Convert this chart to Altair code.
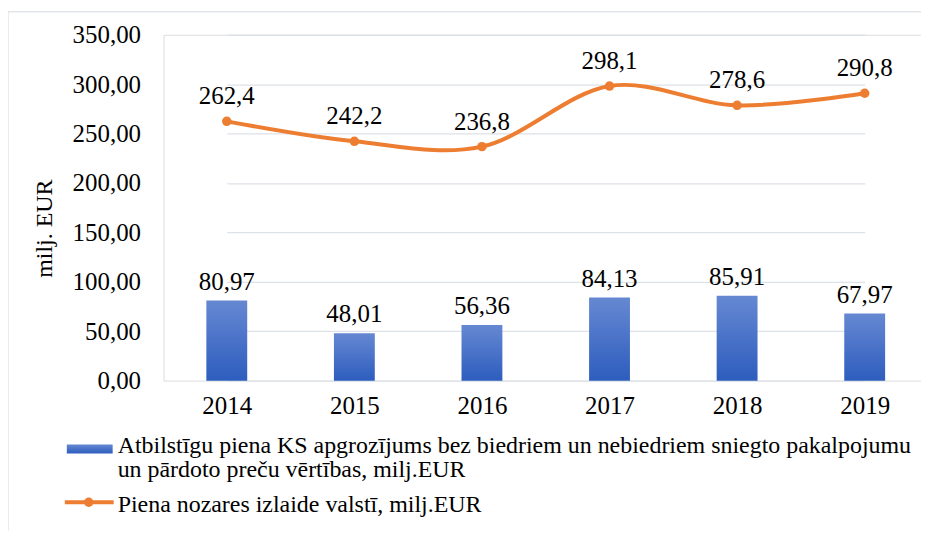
import altair as alt
import pandas as pd

years = ["2014", "2015", "2016", "2017", "2018", "2019"]
bar_values = [80.97, 48.01, 56.36, 84.13, 85.91, 67.97]
line_values = [262.4, 242.2, 236.8, 298.1, 278.6, 290.8]
y_ticks = [0, 50, 100, 150, 200, 250, 300, 350]
bar_name_1 = "Atbilstīgu piena KS apgrozījums bez biedriem un nebiedriem sniegto pakalpojumu"
bar_name_2 = "un pārdoto preču vērtības, milj.EUR"
line_name = "Piena nozares izlaide valstī, milj.EUR"
y_title = "milj. EUR"

FONT = "Liberation Serif"
ORANGE = "#ED7D31"

df = pd.DataFrame({"year": years, "bar": bar_values, "line": line_values})
df["bar_lbl"] = [f"{v:.2f}".replace(".", ",") for v in bar_values]
df["line_lbl"] = [f"{v:.1f}".replace(".", ",") for v in line_values]

W, H = 760, 347

def xs():
    return alt.Scale(type="point", range=[63.5, 703.5], padding=0)

x_enc = alt.X("year:O", scale=xs(),
              axis=alt.Axis(title=None, domain=False, ticks=False, labelAngle=0,
                            labelFont=FONT, labelFontSize=25, labelColor="#000000",
                            labelPadding=13))
y_scale = alt.Scale(domain=[0, 350], nice=False)

grad = alt.LinearGradient(
    gradient="linear",
    stops=[alt.GradientStop(color="#6688d2", offset=0),
           alt.GradientStop(color="#2d5dbe", offset=1)],
    x1=1, x2=1, y1=0, y2=1)

one = alt.Data(values=[{"k": 1}])
frame_left = alt.Chart(one).mark_rule(color="#e1e5ea", strokeWidth=1.5).encode(
    x=alt.value(-156), y=alt.value(-23), y2=alt.value(700))
frame_top = alt.Chart(one).mark_rule(color="#e1e5ea", strokeWidth=1.5).encode(
    x=alt.value(-156), x2=alt.value(900), y=alt.value(-23))

base = alt.Chart(df)

bars = base.mark_bar(size=41, color=grad).encode(
    x=x_enc,
    y=alt.Y("bar:Q", scale=y_scale,
            axis=alt.Axis(title=y_title, values=y_ticks, domain=False, ticks=False,
                          grid=True, gridColor="#dde2e9", gridWidth=1.3,
                          labelExpr="replace(format(datum.value, '.2f'), '.', ',')",
                          labelFont=FONT, labelFontSize=25, labelColor="#000000",
                          labelPadding=23,
                          titleFont=FONT, titleFontSize=24, titleFontWeight="normal",
                          titleColor="#000000", titleAngle=270, titleX=-119, titleY=194,
                          titleAlign="center", titleBaseline="middle")),
)

bar_text = base.mark_text(font=FONT, fontSize=25, color="#000000", dy=-6,
                          baseline="bottom").encode(
    x=alt.X("year:O", scale=xs()),
    y=alt.Y("bar:Q", scale=y_scale),
    text="bar_lbl:N",
)

line = base.mark_line(color=ORANGE, strokeWidth=4, interpolate="cardinal").encode(
    x=alt.X("year:O", scale=xs()),
    y=alt.Y("line:Q", scale=y_scale),
)
pts = base.mark_point(filled=True, color=ORANGE, size=90, opacity=1).encode(
    x=alt.X("year:O", scale=xs()),
    y=alt.Y("line:Q", scale=y_scale),
)
line_text = base.mark_text(font=FONT, fontSize=25, color="#000000", dy=-25,
                           baseline="middle").encode(
    x=alt.X("year:O", scale=xs()),
    y=alt.Y("line:Q", scale=y_scale),
    text="line_lbl:N",
)

leg_rect = alt.Chart(one).mark_rect(color=grad).encode(
    x=alt.value(-97), x2=alt.value(-51), y=alt.value(411), y2=alt.value(420))
leg_t1 = alt.Chart(one).mark_text(font=FONT, fontSize=24, align="left", baseline="middle",
                                  color="#000000").encode(
    x=alt.value(-46), y=alt.value(413), text=alt.value(bar_name_1))
leg_t2 = alt.Chart(one).mark_text(font=FONT, fontSize=24, align="left", baseline="middle",
                                  color="#000000").encode(
    x=alt.value(-46), y=alt.value(437), text=alt.value(bar_name_2))
leg_line = alt.Chart(one).mark_rule(color=ORANGE, strokeWidth=4).encode(
    x=alt.value(-99), x2=alt.value(-50), y=alt.value(469))
leg_pt = alt.Chart(one).mark_point(filled=True, color=ORANGE, size=90, opacity=1).encode(
    x=alt.value(-75), y=alt.value(469))
leg_t3 = alt.Chart(one).mark_text(font=FONT, fontSize=24, align="left", baseline="middle",
                                  color="#000000").encode(
    x=alt.value(-46), y=alt.value(472), text=alt.value(line_name))

chart = alt.layer(frame_left, frame_top, bars, bar_text, line, pts, line_text,
                  leg_rect, leg_t1, leg_t2, leg_line, leg_pt, leg_t3).properties(
    width=W, height=H,
    autosize=alt.AutoSizeParams(type="none"),
    padding={"left": 156, "top": 26, "right": 0, "bottom": 150},
).configure_view(stroke=None).configure(background="white")

chart.save("out.html", embed_options={"renderer": "svg", "actions": False})
